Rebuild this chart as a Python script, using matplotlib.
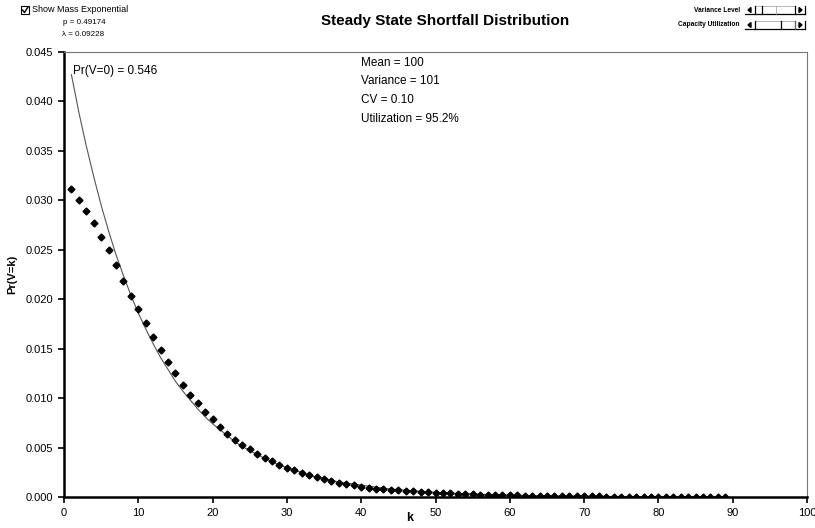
import matplotlib
matplotlib.use("Agg")
import matplotlib.pyplot as plt
from matplotlib.patches import Rectangle, Polygon
from matplotlib.lines import Line2D

plt.rcParams['font.family'] = ['Liberation Sans', 'DejaVu Sans']

# Shortfall probabilities Pr(V=k), k = 1..89
k_vals = list(range(1, 90))
pr_vals = [
    0.03117, 0.03006, 0.02895, 0.02773, 0.02632, 0.02500, 0.02348, 0.02186, 0.02034, 0.01903,
    0.01761, 0.01619, 0.01488, 0.01366, 0.01255, 0.01134, 0.01032, 0.00951, 0.00860, 0.00785,
    0.00705, 0.00638, 0.00577, 0.00526, 0.00486, 0.00435, 0.00395, 0.00364, 0.00324, 0.00294,
    0.00273, 0.00243, 0.00223, 0.00202, 0.00182, 0.00162, 0.00142, 0.00132, 0.00121, 0.00105,
    0.00096, 0.00085, 0.00078, 0.00071, 0.00066, 0.00061, 0.00056, 0.00051, 0.00047, 0.00043,
    0.00039, 0.00036, 0.00033, 0.00030, 0.00027, 0.00025, 0.00023, 0.00021, 0.00019, 0.00017,
    0.00016, 0.00014, 0.00013, 0.00012, 0.00011, 0.00010, 0.00009, 0.00008, 0.00008, 0.00007,
    0.00006, 0.00006, 0.00005, 0.00005, 0.00004, 0.00004, 0.00004, 0.00003, 0.00003, 0.00003,
    0.00003, 0.00002, 0.00002, 0.00002, 0.00002, 0.00002, 0.00001, 0.00001, 0.00001,
]

# Mass exponential curve
exp_k = list(range(1, 90))
exp_vals = [
    0.0427, 0.0389, 0.0355, 0.0324, 0.0295, 0.0269, 0.0245, 0.0224, 0.0204, 0.0186,
    0.0170, 0.0155, 0.0141, 0.0129, 0.0117, 0.0107, 0.0098, 0.0089, 0.0081, 0.0074,
    0.0068, 0.0062, 0.0056, 0.0051, 0.0047, 0.0043, 0.0039, 0.0036, 0.0032, 0.0030,
    0.0027, 0.0025, 0.0022, 0.0020, 0.0019, 0.0017, 0.0015, 0.0014, 0.0013, 0.0012,
    0.0011, 0.0010, 0.0009, 0.0008, 0.00075, 0.00068, 0.00062, 0.00057, 0.00052, 0.00047,
    0.00043, 0.00039, 0.00036, 0.00033, 0.00030, 0.00027, 0.00025, 0.00023, 0.00021, 0.00019,
    0.00017, 0.00016, 0.00014, 0.00013, 0.00012, 0.00011, 0.00010, 0.00009, 0.00008, 0.00008,
    0.00007, 0.00006, 0.00006, 0.00005, 0.00005, 0.00004, 0.00004, 0.00004, 0.00003, 0.00003,
    0.00003, 0.00003, 0.00002, 0.00002, 0.00002, 0.00002, 0.00002, 0.00001, 0.00001,
]

x_ticks = [0, 10, 20, 30, 40, 50, 60, 70, 80, 90, 100]
y_ticks = [0.000, 0.005, 0.010, 0.015, 0.020, 0.025, 0.030, 0.035, 0.040, 0.045]

fig = plt.figure(figsize=(8.15, 5.28), dpi=100)
ax = fig.add_axes([64 / 815, 1 - 497 / 528, (807 - 64) / 815, (497 - 52) / 528])

ax.plot(exp_k, exp_vals, color='#555555', lw=0.8, zorder=2)
ax.plot(k_vals, pr_vals, linestyle='none', marker='D', ms=3.5, color='black', zorder=3)

ax.set_xlim(0, 100)
ax.set_ylim(0, 0.045)
ax.set_xticks(x_ticks)
ax.set_yticks(y_ticks)
ax.set_xticklabels([str(v) for v in x_ticks], fontsize=8)
ax.set_yticklabels([f"{v:.3f}" for v in y_ticks], fontsize=8)
ax.tick_params(axis='both', direction='out', length=4, width=1.2, color='black', pad=4)

for side in ('left', 'bottom'):
    ax.spines[side].set_linewidth(1.8)
    ax.spines[side].set_color('black')
ax.spines['top'].set_linewidth(0.8)
ax.spines['top'].set_color('#777777')
ax.spines['top'].set_linestyle((0, (1, 1)))
ax.spines['right'].set_linewidth(0.8)
ax.spines['right'].set_color('#777777')

ax.set_ylabel('Pr(V=k)', fontsize=8, fontweight='bold', labelpad=6)
ax.text(46.5, -0.00215, 'k', fontsize=9, fontweight='bold', ha='center', va='center')

ax.text(1.2, 0.0431, 'Pr(V=0) = 0.546', fontsize=8.5, ha='left', va='center')
stats = ['Mean = 100', 'Variance = 101', 'CV = 0.10', 'Utilization = 95.2%']
for i, s in enumerate(stats):
    ax.text(40.0, 0.0439 - i * 0.00188, s, fontsize=8.5, ha='left', va='center')

fig.text(445 / 815, 1 - 21 / 528, 'Steady State Shortfall Distribution', fontsize=11,
         fontweight='bold', ha='center', va='center')


def px(x, y):
    return x / 815, 1 - y / 528


# Checkbox and parameter readouts
cb = Rectangle(px(21, 14), 8 / 815, 8 / 528, transform=fig.transFigure,
               fill=False, edgecolor='black', lw=0.8)
fig.patches.append(cb)
fig.lines.append(Line2D([22.5 / 815, 24.5 / 815, 28 / 815],
                        [1 - 10 / 528, 1 - 12.5 / 528, 1 - 7 / 528],
                        transform=fig.transFigure, color='black', lw=1.0))
fig.text(*px(32, 10), 'Show Mass Exponential', fontsize=6.5, ha='left', va='center')
fig.text(*px(63, 23), 'p = 0.49174', fontsize=5.8, ha='left', va='center')
fig.text(*px(62, 34), 'λ = 0.09228', fontsize=5.8, ha='left', va='center')


# Scroll controls
def vline(x, y0, y1, color='black', lw=0.9):
    fig.lines.append(Line2D([x / 815] * 2, [1 - y0 / 528, 1 - y1 / 528],
                            transform=fig.transFigure, color=color, lw=lw))


def hline(x0, x1, y, color='black', lw=0.9):
    fig.lines.append(Line2D([x0 / 815, x1 / 815], [1 - y / 528] * 2,
                            transform=fig.transFigure, color=color, lw=lw))


def scrollbar(y, thumb_x, label):
    fig.text(*px(740, y), label, fontsize=4.8, fontweight='bold', ha='right', va='center')
    x0, x1 = 745, 805
    hline(x0, x1, y + 4)
    hline(x0 + 10, x1 - 10, y - 4, color='#999999', lw=0.5)
    vline(x0 + 10, y + 4, y - 4)
    vline(x1 - 10, y + 4, y - 4)
    vline(x1, y + 4, y - 4)
    vline(thumb_x, y + 4, y - 4)
    vline(thumb_x + 14, y + 4, y - 4, color='#999999', lw=0.5)
    la = Polygon([px(x0 + 3, y), px(x0 + 6, y - 2.5), px(x0 + 6, y + 2.5)], closed=True,
                 transform=fig.transFigure, color='black')
    ra = Polygon([px(x1 - 3, y), px(x1 - 6, y - 2.5), px(x1 - 6, y + 2.5)], closed=True,
                 transform=fig.transFigure, color='black')
    fig.patches.extend([la, ra])


scrollbar(10, 762, 'Variance Level')
scrollbar(25, 781, 'Capacity Utilization')

fig.savefig('out.png', dpi=100)
